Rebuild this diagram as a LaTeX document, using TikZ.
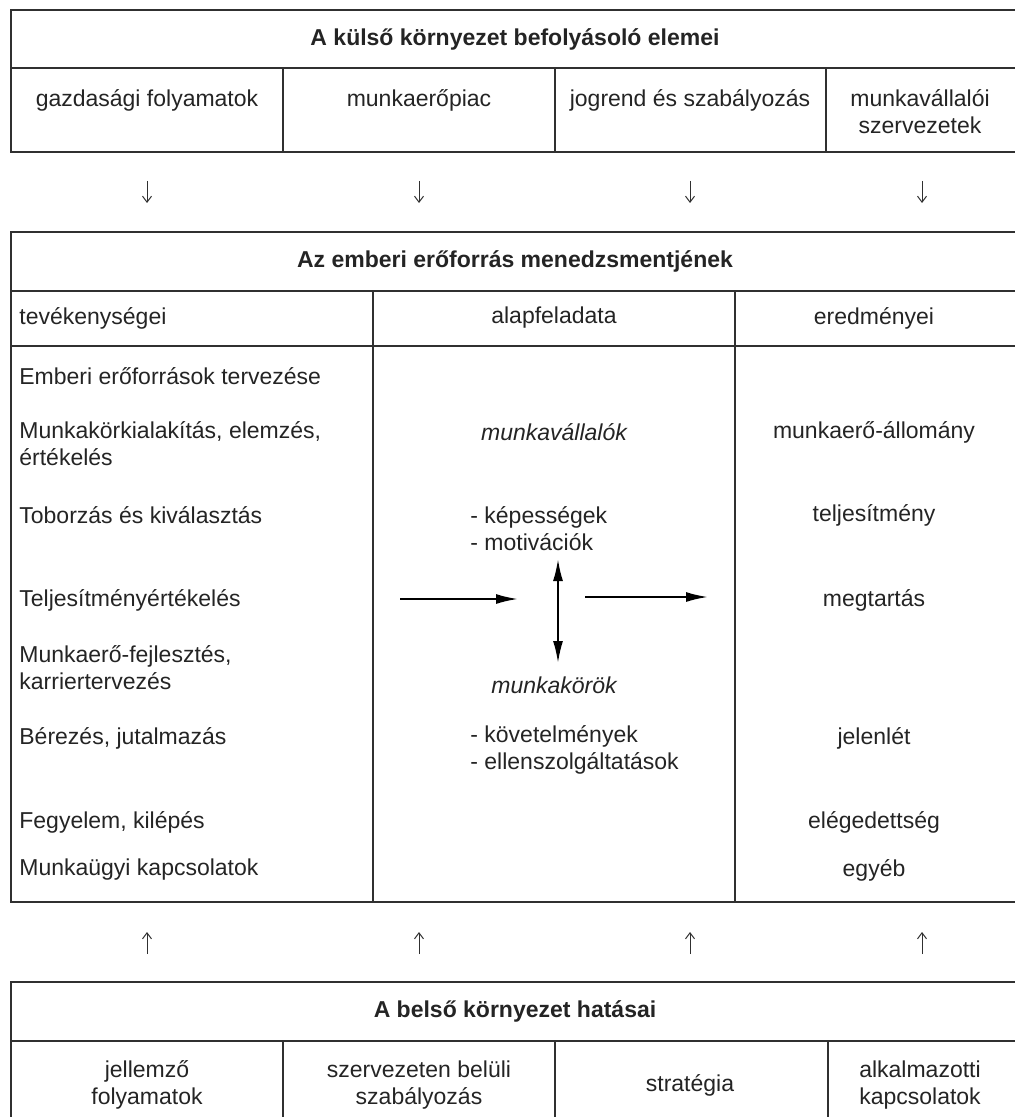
\documentclass[tikz,border=0pt]{standalone}
\usepackage{fontspec}
\setmainfont{Liberation Sans}
\usetikzlibrary{arrows.meta}

\definecolor{keretszin}{HTML}{303030}
\definecolor{betuszin}{HTML}{242424}

\begin{document}
\begin{tikzpicture}[x=0.5pt,y=-0.5pt,
    every node/.style={font=\fontsize{11.5pt}{13.5pt}\selectfont, text=betuszin, inner sep=0pt},
    keret/.style={draw=keretszin, line width=1pt},
    fejlec/.style={font=\fontsize{11.5pt}{13.5pt}\selectfont\bfseries},
    dolt/.style={font=\fontsize{11.5pt}{13.5pt}\selectfont\itshape},
    bal/.style={anchor=west, align=left},
    kisnyil/.style={draw=keretszin, line width=0.5pt, -{Straight Barb[length=3pt,width=4.5pt]}},
    nagynyil/.style={draw=black, line width=1pt, -{Latex[length=11pt,width=5pt]}},
    kettosnyil/.style={draw=black, line width=1pt, {Latex[length=11pt,width=5pt]}-{Latex[length=11pt,width=5pt]}}]

    \useasboundingbox (0,0) rectangle (1015,1117);

    % Felső táblázat: külső környezet
    \draw[keret] (1015,10) -- (11,10) -- (11,152) -- (1015,152);
    \draw[keret] (11,68) -- (1015,68);
    \foreach \x in {283,555,826}
        \draw[keret] (\x,68) -- (\x,152);

    \node[fejlec] (kulso) at (515,39) {A külső környezet befolyásoló elemei};
    \node (gazd) at (147,100) {gazdasági folyamatok};
    \node (piac) at (419,100) {munkaerőpiac};
    \node (jog) at (690,100) {jogrend és szabályozás};
    \node[align=center] (szerv) at (920,112) {munkavállalói\\szervezetek};

    % Lefelé mutató nyilak
    \foreach \x [count=\i] in {147,419,690,922} {
        \coordinate (le\i) at (\x,181);
        \coordinate (le\i v) at (\x,203);
        \draw[kisnyil] (le\i) -- (le\i v);
    }

    % Középső táblázat
    \draw[keret] (1015,232) -- (11,232) -- (11,902) -- (1015,902);
    \draw[keret] (11,291) -- (1015,291);
    \draw[keret] (11,346) -- (1015,346);
    \foreach \x in {373,735}
        \draw[keret] (\x,291) -- (\x,902);

    \node[fejlec] (emberi) at (515,261) {Az emberi erőforrás menedzsmentjének};
    \node[bal] (tev) at (19,318) {tevékenységei};
    \node (alap) at (554,318) {alapfeladata};
    \node (ered) at (874,318) {eredményei};

    % Tevékenységek
    \foreach \y/\szoveg [count=\i] in {376/{Emberi erőforrások tervezése},
        444/{Munkakörkialakítás, elemzés,\\értékelés},
        515/{Toborzás és kiválasztás},
        600/{Teljesítményértékelés},
        668/{Munkaerő-fejlesztés,\\karriertervezés},
        738/{Bérezés, jutalmazás},
        822/{Fegyelem, kilépés},
        870/{Munkaügyi kapcsolatok}}
        \node[bal] (tev\i) at (19,\y) {\szoveg};

    % Alapfeladat
    \node[dolt] (mvall) at (554,432) {munkavállalók};
    \node[bal] (kepes) at (470,529) {- képességek\\- motivációk};
    \node[dolt] (mkor) at (554,685) {munkakörök};
    \node[bal] (kovet) at (470,750) {- követelmények\\- ellenszolgáltatások};

    \coordinate (be) at (400,599);
    \coordinate (be v) at (518,599);
    \coordinate (fent) at (558,559);
    \coordinate (lent) at (558,663);
    \coordinate (ki) at (585,597);
    \coordinate (ki v) at (708,597);
    \draw[nagynyil] (be) -- (be v);
    \draw[kettosnyil] (fent) -- (lent);
    \draw[nagynyil] (ki) -- (ki v);

    % Eredmények
    \foreach \y/\szoveg [count=\i] in {432/munkaerő-állomány, 515/teljesítmény,
        600/megtartás, 738/jelenlét, 822/elégedettség, 870/egyéb}
        \node (ered\i) at (874,\y) {\szoveg};

    % Felfelé mutató nyilak
    \foreach \x [count=\i] in {147,419,690,922} {
        \coordinate (fel\i) at (\x,954);
        \coordinate (fel\i v) at (\x,932);
        \draw[kisnyil] (fel\i) -- (fel\i v);
    }

    % Alsó táblázat: belső környezet
    \draw[keret] (11,1117) -- (11,982) -- (1015,982);
    \draw[keret] (11,1041) -- (1015,1041);
    \foreach \x in {283,555,828}
        \draw[keret] (\x,1041) -- (\x,1117);

    \node[fejlec] (belso) at (515,1011) {A belső környezet hatásai};
    \node[align=center] (jell) at (147,1085) {jellemző\\folyamatok};
    \node[align=center] (szab) at (419,1085) {szervezeten belüli\\szabályozás};
    \node (strat) at (690,1085) {stratégia};
    \node[align=center] (alk) at (920,1085) {alkalmazotti\\kapcsolatok};

\end{tikzpicture}
\end{document}
